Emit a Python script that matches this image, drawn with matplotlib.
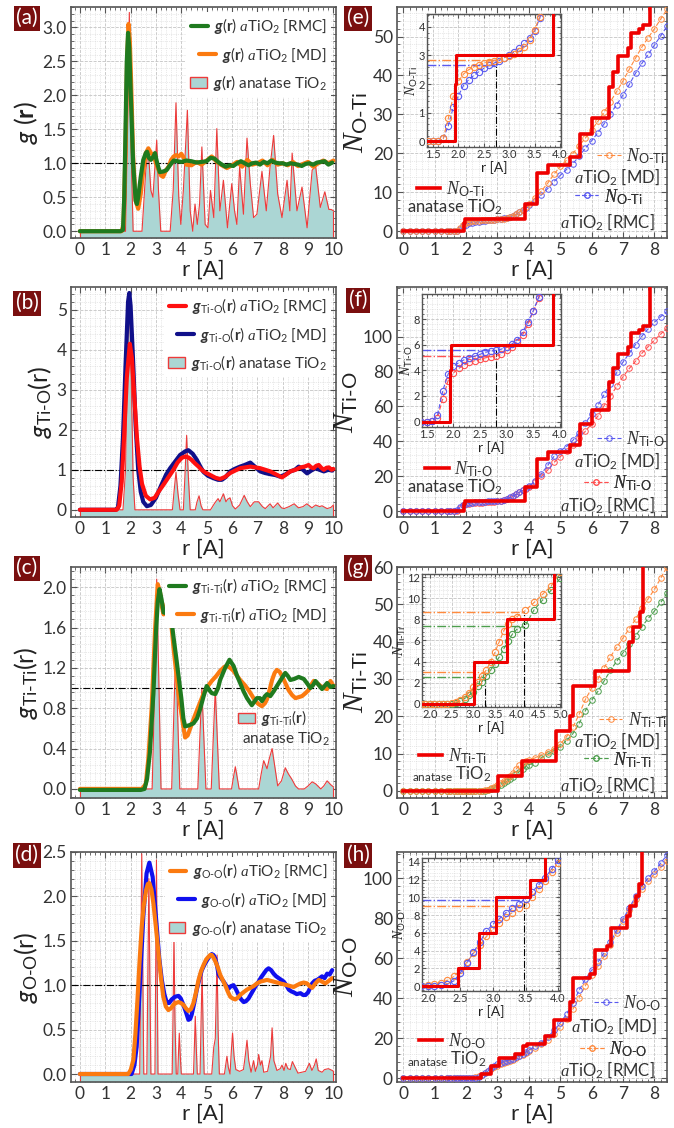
import numpy as np
import matplotlib
matplotlib.use("Agg")
import matplotlib.pyplot as plt
from matplotlib.ticker import MultipleLocator, FormatStrFormatter, FixedLocator
from matplotlib.patches import Patch

plt.rcParams['font.family'] = ['Lato', 'DejaVu Sans']
plt.rcParams['mathtext.fontset'] = 'custom'
plt.rcParams['mathtext.rm'] = 'Lato'
plt.rcParams['mathtext.it'] = 'Liberation Serif:italic'
plt.rcParams['mathtext.bf'] = 'Lato:bold'
plt.rcParams['mathtext.sf'] = 'Lato:italic'
plt.rcParams['mathtext.bfit'] = 'Lato:bold:italic'

# ---------------- g(r) data (r in A, g) ----------------
GA_ANATASE = [(0.0, 0), (1.80, 0), (1.88, 1.5), (1.95, 3.22), (2.02, 1.2), (2.10, 0), (2.45, 0),
              (2.60, 0.9), (2.70, 1.19), (2.80, 0.6), (2.88, 0.5), (2.95, 0.9), (3.03, 1.34), (3.10, 0.6),
              (3.19, 0), (3.56, 0), (3.68, 0.6), (3.79, 1.89), (3.90, 0.5), (3.98, 0.1), (4.08, 0.6),
              (4.24, 1.78), (4.35, 0.3), (4.45, 0), (4.54, 0.4), (4.63, 0.1), (4.72, 0.4), (4.81, 1.24),
              (4.94, 0.1), (5.05, 0.05), (5.15, 0.6), (5.28, 0.2), (5.40, 1.51), (5.52, 0.3), (5.66, 0.75),
              (5.82, 0.05), (5.99, 0.7), (6.10, 0.3), (6.19, 0.1), (6.30, 0.95), (6.45, 0.25), (6.59, 1.37),
              (6.72, 0.7), (6.85, 0.2), (6.98, 0.25), (7.18, 0.88), (7.35, 0.3), (7.50, 0.95), (7.64, 1.41),
              (7.80, 0.55), (7.97, 0.2), (8.17, 0.75), (8.28, 0.3), (8.37, 1.15), (8.56, 0.3), (8.76, 0.65),
              (8.96, 0.05), (9.16, 0.9), (9.30, 0.95), (9.48, 0.35), (9.66, 0.58), (9.82, 0.32),
              (9.91, 0.32), (10.0, 0.3)]
GA_MD = [(0.0, 0), (1.65, 0), (1.72, 0.1), (1.80, 1.2), (1.86, 2.5), (1.92, 3.05), (1.97, 2.8), (2.02, 2.2),
         (2.10, 1.1), (2.20, 0.45), (2.30, 0.33), (2.40, 0.55), (2.50, 0.9), (2.60, 1.15), (2.70, 1.22),
         (2.80, 1.15), (2.90, 1.12), (3.00, 1.0), (3.10, 0.9), (3.20, 0.82), (3.28, 0.8), (3.40, 0.9),
         (3.50, 0.95), (3.60, 1.05), (3.70, 1.1), (3.80, 1.12), (3.90, 1.1), (4.00, 1.14), (4.10, 1.08),
         (4.20, 0.98), (4.40, 0.97), (4.60, 1.02), (4.80, 0.98), (5.00, 1.04), (5.20, 1.1), (5.40, 1.02),
         (5.60, 0.97), (5.80, 0.93), (6.00, 0.97), (6.20, 1.02), (6.40, 0.95), (6.60, 1.05), (6.80, 0.98),
         (7.00, 1.0), (7.20, 1.04), (7.40, 0.97), (7.60, 1.05), (7.80, 0.98), (8.00, 1.0), (8.20, 0.97),
         (8.40, 1.02), (8.60, 0.96), (8.80, 0.99), (9.00, 1.02), (9.20, 0.95), (9.40, 1.0), (9.60, 1.04),
         (9.80, 1.0), (10.0, 1.04)]
GA_RMC = [(0.0, 0), (1.60, 0), (1.70, 0.02), (1.75, 0.5), (1.80, 1.5), (1.85, 2.5), (1.90, 2.92), (1.95, 2.7),
          (2.00, 2.1), (2.10, 1.0), (2.20, 0.45), (2.25, 0.4), (2.30, 0.5), (2.40, 0.8), (2.50, 1.05),
          (2.60, 1.15), (2.65, 1.17), (2.72, 1.08), (2.80, 1.05), (2.90, 1.1), (2.96, 1.15), (3.05, 1.0),
          (3.15, 0.87), (3.30, 0.88), (3.42, 0.9), (3.55, 0.97), (3.70, 1.04), (3.85, 1.03), (4.00, 1.02),
          (4.20, 1.04), (4.40, 1.03), (4.60, 1.01), (4.80, 1.02), (5.00, 1.03), (5.15, 1.08), (5.30, 1.07),
          (5.45, 1.02), (5.60, 0.98), (5.75, 0.95), (5.90, 0.97), (6.05, 0.96), (6.20, 1.0), (6.35, 1.03),
          (6.50, 1.0), (6.65, 0.97), (6.80, 1.0), (6.95, 1.01), (7.10, 0.98), (7.25, 1.02), (7.40, 1.0),
          (7.55, 1.04), (7.70, 1.01), (7.85, 1.0), (8.00, 1.0), (8.15, 0.98), (8.30, 1.0), (8.45, 0.99),
          (8.60, 0.98), (8.75, 0.96), (8.90, 0.99), (9.05, 1.0), (9.20, 0.98), (9.35, 1.01), (9.50, 1.02),
          (9.65, 1.03), (9.80, 0.98), (9.95, 1.01)]

GB_ANATASE = [(0.0, 0), (1.70, 0), (1.80, 1.0), (1.88, 4.0), (1.95, 5.45), (2.02, 3.5), (2.10, 0.8), (2.17, 0),
              (3.65, 0), (3.72, 0.5), (3.79, 0.94), (3.87, 0.4), (3.95, 0), (4.08, 0), (4.14, 0.8), (4.21, 1.86),
              (4.28, 0.8), (4.35, 0), (4.55, 0), (4.62, 0.2), (4.70, 0.35), (4.78, 0.1), (4.85, 0), (5.15, 0),
              (5.33, 0.18), (5.45, 0.28), (5.52, 0.2), (5.66, 0.4), (5.76, 0.2), (5.82, 0.26), (5.92, 0.3),
              (6.02, 0.1), (6.13, 0.02), (6.30, 0.12), (6.48, 0.36), (6.60, 0.2), (6.72, 0.08), (6.88, 0.2),
              (7.05, 0.2), (7.20, 0.08), (7.31, 0.03), (7.50, 0.15), (7.62, 0.05), (7.80, 0.17), (7.95, 0.05),
              (8.05, 0.03), (8.25, 0.08), (8.45, 0.15), (8.62, 0.05), (8.80, 0.08), (8.95, 0.15), (9.15, 0.05),
              (9.30, 0.12), (9.45, 0.08), (9.55, 0.1), (9.75, 0.03), (9.90, 0.06), (10.0, 0.12)]
GB_MD = [(0.0, 0), (1.40, 0), (1.50, 0.05), (1.60, 0.6), (1.70, 1.8), (1.80, 3.6), (1.90, 5.2), (1.95, 5.42),
         (2.00, 5.1), (2.10, 3.7), (2.20, 2.1), (2.30, 1.0), (2.40, 0.45), (2.50, 0.2), (2.64, 0.09),
         (2.80, 0.12), (3.00, 0.3), (3.20, 0.6), (3.40, 0.88), (3.56, 1.04), (3.75, 1.2), (3.95, 1.37),
         (4.15, 1.46), (4.28, 1.49), (4.45, 1.4), (4.61, 1.25), (4.75, 1.08), (4.87, 0.95), (5.05, 0.85),
         (5.27, 0.79), (5.45, 0.75), (5.60, 0.75), (5.75, 0.82), (5.93, 0.96), (6.10, 1.02), (6.32, 1.08),
         (6.50, 1.12), (6.72, 1.18), (6.90, 1.08), (7.11, 0.96), (7.30, 0.92), (7.51, 0.89), (7.70, 0.87),
         (7.90, 0.83), (8.10, 0.88), (8.30, 0.96), (8.48, 1.0), (8.63, 1.08), (8.80, 1.0), (8.96, 0.91),
         (9.12, 0.98), (9.29, 1.04), (9.45, 1.0), (9.62, 0.96), (9.80, 1.0), (9.95, 0.98)]
GB_RMC = [(0.0, 0), (1.45, 0), (1.55, 0.1), (1.65, 0.7), (1.75, 1.9), (1.85, 3.3), (1.97, 4.15), (2.05, 3.8),
          (2.15, 2.8), (2.25, 1.8), (2.35, 1.1), (2.45, 0.65), (2.60, 0.35), (2.77, 0.26), (2.95, 0.3),
          (3.10, 0.45), (3.30, 0.63), (3.50, 0.82), (3.69, 1.0), (3.85, 1.18), (4.02, 1.3), (4.15, 1.33),
          (4.28, 1.31), (4.40, 1.25), (4.54, 1.16), (4.68, 1.08), (4.80, 1.0), (4.95, 0.93), (5.14, 0.87),
          (5.35, 0.8), (5.53, 0.77), (5.72, 0.82), (5.93, 0.92), (6.12, 0.98), (6.32, 1.04), (6.52, 1.06),
          (6.72, 1.08), (6.92, 1.06), (7.11, 1.04), (7.31, 1.0), (7.51, 0.96), (7.75, 0.88), (7.97, 0.81),
          (8.13, 0.88), (8.30, 0.96), (8.50, 1.0), (8.70, 1.06), (8.86, 1.08), (9.02, 1.12), (9.12, 1.06),
          (9.22, 1.04), (9.32, 1.1), (9.42, 1.12), (9.52, 1.05), (9.62, 1.0), (9.72, 1.05), (9.82, 1.06),
          (9.92, 1.0), (10.0, 1.02)]

GC_ANATASE = [(0.0, 0), (2.85, 0), (2.95, 1.0), (3.03, 2.08), (3.12, 1.0), (3.20, 0), (3.62, 0), (3.70, 0.7),
              (3.78, 1.38), (3.86, 0.7), (3.94, 0), (4.65, 0), (4.73, 0.5), (4.81, 1.0), (4.89, 0.5), (4.97, 0),
              (5.18, 0), (5.26, 0.5), (5.34, 0.99), (5.42, 0.5), (5.50, 0), (5.98, 0), (6.06, 0.12), (6.13, 0.22),
              (6.20, 0.12), (6.28, 0), (7.05, 0), (7.15, 0.15), (7.25, 0.28), (7.38, 0.2), (7.47, 0.3),
              (7.58, 0.4), (7.70, 0.2), (7.80, 0.03), (7.95, 0.08), (8.10, 0.21), (8.22, 0.15), (8.35, 0.1),
              (8.50, 0.03), (8.62, 0.0), (8.85, 0.0), (9.00, 0.03), (9.16, 0.07), (9.30, 0.05), (9.50, 0.0),
              (9.62, 0.03), (9.75, 0.08), (9.90, 0.04), (10.0, 0.02)]
GC_MD = [(0.0, 0.0), (2.45, 0.0), (2.60, 0.05), (2.70, 0.3), (2.83, 0.8), (2.97, 1.6), (3.07, 2.03), (3.16, 1.95),
         (3.24, 1.8), (3.30, 1.73), (3.38, 1.8), (3.44, 1.85), (3.53, 1.81), (3.60, 1.65), (3.69, 1.41),
         (3.80, 1.15), (3.89, 0.95), (4.00, 0.75), (4.08, 0.62), (4.15, 0.51), (4.25, 0.53), (4.35, 0.6),
         (4.48, 0.69), (4.65, 0.8), (4.87, 0.94), (5.05, 1.02), (5.20, 1.07), (5.38, 1.12), (5.53, 1.17),
         (5.70, 1.21), (5.80, 1.22), (5.93, 1.2), (6.06, 1.17), (6.20, 1.12), (6.32, 1.08), (6.50, 1.03),
         (6.65, 0.98), (6.80, 0.92), (6.92, 0.87), (7.05, 0.84), (7.18, 0.82), (7.30, 0.85), (7.38, 0.89),
         (7.48, 0.98), (7.58, 1.08), (7.68, 1.15), (7.77, 1.18), (7.88, 1.16), (7.97, 1.12), (8.10, 1.05),
         (8.23, 0.98), (8.37, 0.93), (8.50, 0.9), (8.63, 0.91), (8.76, 0.92), (8.90, 0.95), (9.02, 0.98),
         (9.12, 1.03), (9.22, 1.07), (9.35, 1.05), (9.49, 1.02), (9.62, 1.0), (9.75, 0.99), (9.88, 1.07),
         (10.0, 1.02)]
GC_RMC = [(0.0, -0.01), (2.40, -0.01), (2.55, 0.0), (2.65, 0.1), (2.76, 0.36), (2.90, 0.95), (3.00, 1.55),
          (3.07, 1.85), (3.14, 1.98), (3.22, 1.88), (3.30, 1.75), (3.42, 1.74), (3.53, 1.78), (3.60, 1.7),
          (3.69, 1.51), (3.80, 1.3), (3.89, 1.12), (4.00, 0.9), (4.08, 0.7), (4.15, 0.62), (4.30, 0.63),
          (4.48, 0.65), (4.62, 0.7), (4.74, 0.79), (4.88, 0.92), (5.00, 1.02), (5.10, 0.98), (5.20, 0.95),
          (5.34, 0.94), (5.45, 1.0), (5.53, 1.08), (5.73, 1.2), (5.90, 1.28), (6.06, 1.22), (6.20, 1.12),
          (6.32, 1.05), (6.45, 0.97), (6.59, 0.9), (6.78, 0.83), (6.98, 0.9), (7.10, 0.9), (7.18, 0.87),
          (7.30, 0.92), (7.38, 0.94), (7.51, 0.92), (7.65, 0.97), (7.77, 1.02), (7.97, 1.1), (8.10, 1.15),
          (8.20, 1.12), (8.30, 1.08), (8.45, 1.09), (8.63, 1.11), (8.83, 1.09), (8.95, 1.05), (9.09, 1.0),
          (9.20, 1.03), (9.29, 1.07), (9.42, 1.03), (9.55, 0.99), (9.65, 1.02), (9.75, 1.05), (9.88, 1.01),
          (10.0, 1.02)]

GD_ANATASE = [(0.0, 0), (2.36, 0), (2.40, 1.2), (2.44, 2.48), (2.48, 1.2), (2.52, 0), (2.64, 0), (2.68, 1.1),
              (2.72, 2.2), (2.76, 1.1), (2.80, 0), (2.96, 0), (2.99, 1.2), (3.02, 2.41), (3.05, 1.2), (3.08, 0),
              (3.64, 0), (3.68, 0.8), (3.71, 1.57), (3.75, 0.6), (3.80, 0), (3.86, 0), (3.89, 0.25), (3.92, 0.46),
              (3.96, 0.2), (4.00, 0), (4.48, 0), (4.52, 0.35), (4.55, 0.65), (4.59, 0.3), (4.63, 0), (4.74, 0),
              (4.78, 0.6), (4.82, 1.15), (4.86, 0.5), (4.90, 0), (5.20, 0), (5.28, 0.3), (5.34, 0.4), (5.38, 0.9),
              (5.41, 1.34), (5.45, 0.5), (5.50, 0), (5.70, 0), (5.76, 0.12), (5.80, 0.2), (5.85, 0.08),
              (5.92, 0), (5.97, 0.25), (6.02, 0.46), (6.08, 0.2), (6.15, 0.05), (6.30, 0.03), (6.45, 0.05),
              (6.52, 0.2), (6.59, 0.38), (6.66, 0.15), (6.75, 0.02), (6.85, 0.15), (6.92, 0.03), (7.00, 0.1),
              (7.05, 0.22), (7.12, 0.1), (7.18, 0.15), (7.25, 0.02), (7.40, 0.03), (7.52, 0.2), (7.58, 0.52),
              (7.65, 0.15), (7.77, 0.04), (7.90, 0.06), (7.97, 0.1), (8.05, 0.04), (8.12, 0.12), (8.20, 0.06),
              (8.30, 0.05), (8.38, 0.14), (8.48, 0.08), (8.60, 0.01), (8.90, 0.03), (9.05, 0.12), (9.15, 0.04),
              (9.25, 0.1), (9.32, 0.17), (9.40, 0.04), (9.55, 0.02), (9.65, 0.05), (9.80, 0.06), (9.95, 0.04),
              (10.0, 0.03)]
GD_MD = [(0.0, 0.0), (2.04, 0.0), (2.15, 0.1), (2.24, 0.31), (2.37, 1.02), (2.50, 1.77), (2.63, 2.26),
         (2.74, 2.38), (2.87, 2.22), (3.03, 1.66), (3.13, 1.3), (3.23, 1.06), (3.33, 0.9), (3.43, 0.8),
         (3.52, 0.8), (3.62, 0.84), (3.75, 0.87), (3.89, 0.88), (3.98, 0.85), (4.08, 0.78), (4.18, 0.7),
         (4.28, 0.61), (4.35, 0.62), (4.41, 0.67), (4.51, 0.8), (4.61, 0.95), (4.71, 1.07), (4.81, 1.17),
         (4.91, 1.23), (5.01, 1.28), (5.10, 1.32), (5.20, 1.35), (5.27, 1.34), (5.34, 1.3), (5.41, 1.22),
         (5.47, 1.12), (5.57, 1.08), (5.67, 1.04), (5.76, 1.0), (5.86, 0.96), (5.96, 0.99), (6.06, 1.0),
         (6.16, 0.95), (6.26, 0.89), (6.36, 0.84), (6.46, 0.81), (6.55, 0.82), (6.65, 0.85), (6.75, 0.9),
         (6.85, 0.95), (6.95, 1.0), (7.05, 1.04), (7.15, 1.09), (7.25, 1.13), (7.35, 1.17), (7.44, 1.19),
         (7.54, 1.17), (7.64, 1.13), (7.74, 1.1), (7.84, 1.08), (7.94, 1.06), (8.04, 1.04), (8.14, 1.0),
         (8.24, 0.95), (8.34, 0.93), (8.43, 0.92), (8.55, 0.9), (8.70, 0.91), (8.80, 0.89), (8.90, 0.89),
         (9.00, 0.92), (9.08, 0.97), (9.16, 1.02), (9.26, 1.05), (9.36, 1.06), (9.46, 1.08), (9.55, 1.1),
         (9.65, 1.08), (9.75, 1.13), (9.85, 1.12), (9.95, 1.17)]
GD_RMC = [(0.0, 0.0), (1.91, 0.0), (2.01, 0.05), (2.11, 0.16), (2.19, 0.45), (2.27, 0.83), (2.35, 1.25),
          (2.44, 1.66), (2.52, 1.9), (2.61, 2.07), (2.68, 2.14), (2.74, 2.15), (2.82, 2.08), (2.90, 1.92),
          (3.00, 1.65), (3.10, 1.36), (3.20, 1.08), (3.29, 0.87), (3.39, 0.76), (3.49, 0.72), (3.59, 0.74),
          (3.69, 0.78), (3.79, 0.8), (3.89, 0.81), (3.98, 0.8), (4.08, 0.78), (4.18, 0.74), (4.28, 0.71),
          (4.38, 0.73), (4.48, 0.8), (4.58, 0.92), (4.68, 1.06), (4.78, 1.16), (4.88, 1.23), (4.98, 1.29),
          (5.07, 1.32), (5.14, 1.34), (5.20, 1.34), (5.27, 1.31), (5.34, 1.27), (5.44, 1.2), (5.53, 1.12),
          (5.63, 1.06), (5.73, 1.0), (5.83, 0.93), (5.93, 0.87), (6.03, 0.85), (6.13, 0.84), (6.23, 0.86),
          (6.32, 0.89), (6.45, 0.92), (6.59, 0.95), (6.72, 0.97), (6.85, 0.99), (6.98, 1.02), (7.11, 1.04),
          (7.25, 1.05), (7.38, 1.06), (7.51, 1.05), (7.64, 1.04), (7.77, 1.03), (7.90, 1.02), (8.04, 1.01),
          (8.17, 1.0), (8.30, 0.99), (8.43, 0.98), (8.56, 1.0), (8.70, 1.02), (8.83, 1.03), (8.96, 1.02),
          (9.06, 0.99), (9.16, 0.97), (9.29, 1.02), (9.42, 1.06), (9.55, 1.04), (9.68, 1.02), (9.82, 1.05),
          (9.95, 1.08)]

# ---------------- running coordination numbers N(r) ----------------
R_CUM = [0.0, 0.2, 0.4, 0.6, 0.8, 1.0, 1.2, 1.4,
         1.5, 1.6, 1.7, 1.8, 1.9, 2.0, 2.1, 2.2, 2.3, 2.4, 2.5, 2.6, 2.7,
         2.8, 2.9, 3.0, 3.1, 3.2, 3.3, 3.4, 3.5, 3.6, 3.7, 3.8, 3.9, 4.0,
         4.2, 4.4, 4.6, 4.8, 5.0, 5.2, 5.4, 5.6, 5.8, 6.0, 6.2, 6.4, 6.6,
         6.8, 7.0, 7.2, 7.4, 7.6, 7.8, 8.0, 8.2, 8.4]

NOTI_MD = [0, 0, 0, 0, 0, 0, 0, 0,
           0, 0, 0.1, 0.8, 1.6, 2.1, 2.35, 2.5, 2.6, 2.68, 2.74, 2.78, 2.82,
           2.86, 2.92, 2.98, 3.05, 3.15, 3.3, 3.55, 3.9, 4.35, 4.9, 5.5, 6.2, 6.9,
           8.5, 10.3, 12.3, 14.6, 16.6, 18.2, 19.9, 21.9, 23.9, 26.0, 28.2, 30.6, 33.3,
           35.9, 38.6, 41.6, 44.5, 47.3, 49.7, 52.0, 54.5, 57.0]
NOTI_RMC = [0, 0, 0, 0, 0, 0, 0, 0,
            0, 0.02, 0.1, 0.55, 1.2, 1.6, 1.95, 2.15, 2.3, 2.43, 2.55, 2.65, 2.73,
            2.82, 2.92, 3.02, 3.12, 3.25, 3.42, 3.62, 3.85, 4.3, 4.8, 5.4, 6.0, 6.6,
            7.8, 9.3, 10.9, 12.7, 14.3, 15.8, 17.3, 19.2, 21.3, 23.2, 25.3, 27.6, 30.2,
            32.5, 35.0, 37.7, 40.6, 43.1, 45.4, 47.8, 50.2, 52.6]
NTIO_MD = [0, 0, 0, 0, 0, 0, 0, 0,
           0, 0.05, 0.5, 2.4, 3.7, 4.3, 4.6, 4.82, 4.98, 5.1, 5.25, 5.4, 5.5,
           5.56, 5.65, 5.85, 6.05, 6.35, 6.95, 7.8, 8.65, 9.7, 10.9, 12.0, 13.2, 14.3,
           17.2, 21.3, 26.2, 31.4, 34.6, 37.0, 40.5, 45.0, 50.5, 55.5, 60.6, 67.0, 73.0,
           79.5, 85.5, 90.5, 95.5, 100.3, 104.5, 108.3, 111.5, 114.5]
NTIO_RMC = [0, 0, 0, 0, 0, 0, 0, 0,
            0, 0.03, 0.3, 1.8, 3.2, 3.8, 4.15, 4.42, 4.62, 4.75, 4.87, 4.97, 5.05,
            5.15, 5.3, 5.55, 5.85, 6.2, 6.75, 7.6, 8.6, 9.6, 10.7, 11.8, 12.9, 14.0,
            16.8, 20.0, 23.5, 27.9, 31.2, 34.3, 37.8, 41.8, 45.8, 50.0, 54.5, 60.5, 66.0,
            71.5, 77.0, 81.8, 86.0, 90.5, 94.3, 98.0, 101.5, 105.0]
NTITI_MD = [0, 0, 0, 0, 0, 0, 0, 0,
            0, 0, 0, 0, 0, 0, 0, 0, 0, 0, 0.05, 0.15, 0.35,
            0.65, 1.05, 1.55, 2.1, 2.65, 3.2, 4.0, 4.9, 5.9, 6.9, 7.6, 8.0, 8.25,
            8.85, 9.6, 10.4, 11.2, 12.5, 14.5, 17.0, 20.5, 24.5, 27.5, 30.0, 33.0, 36.0,
            38.5, 41.0, 43.5, 46.0, 49.0, 51.5, 54.0, 57.0, 60.0]
NTITI_RMC = [0, 0, 0, 0, 0, 0, 0, 0,
             0, 0, 0, 0, 0, 0, 0, 0, 0, 0, 0.02, 0.1, 0.25,
             0.5, 0.8, 1.1, 1.65, 2.1, 2.65, 3.2, 3.8, 4.45, 5.2, 5.95, 6.6, 7.05,
             7.45, 8.9, 9.85, 10.8, 11.9, 13.5, 15.3, 18.0, 21.5, 24.3, 26.7, 29.5, 32.3,
             34.8, 37.0, 39.3, 41.5, 44.0, 46.2, 48.2, 50.5, 53.0]
NOO_MD = [0, 0, 0, 0, 0, 0, 0, 0,
          0, 0, 0, 0, 0, 0, 0.02, 0.08, 0.2, 0.6, 1.5, 2.6, 3.8,
          5.0, 6.2, 7.0, 7.6, 8.3, 8.8, 9.3, 9.85, 10.6, 11.4, 12.2, 13.2, 14.2,
          16.0, 17.8, 20.5, 24.0, 27.8, 32.0, 37.5, 44.0, 49.5, 54.0, 58.0, 62.8, 68.0,
          74.0, 79.5, 85.0, 90.8, 96.0, 100.0, 103.5, 107.5, 111.5]
NOO_RMC = [0, 0, 0, 0, 0, 0, 0, 0,
           0, 0, 0, 0.02, 0.05, 0.15, 0.25, 0.4, 0.65, 1.1, 1.8, 2.7, 3.7,
           4.6, 5.6, 6.4, 7.1, 7.8, 8.3, 8.8, 9.2, 10.1, 11.0, 11.9, 12.9, 13.9,
           15.4, 17.0, 19.2, 22.2, 25.5, 29.8, 34.5, 40.3, 46.3, 51.5, 56.0, 61.0, 66.5,
           72.8, 78.5, 84.0, 89.5, 94.5, 98.5, 102.0, 105.3, 108.3]

# anatase running coordination numbers (step positions, values)
ANA_OTI_R = [0.0, 1.93, 1.96, 3.87, 4.27, 4.62, 5.30, 5.62, 6.00, 6.55, 6.68, 6.83, 7.15, 7.26, 7.50, 7.65, 7.85, 8.6]
ANA_OTI_N = [0, 2, 3, 7, 15, 17, 19, 25, 29, 37, 41, 45, 47, 51, 52, 53, 60, 60]
ANA_TIO_R = [0.0, 1.93, 1.96, 3.87, 4.27, 4.62, 5.30, 5.62, 6.00, 6.55, 6.68, 6.83, 7.15, 7.26, 7.50, 7.65, 7.85, 8.6]
ANA_TIO_N = [0, 4, 6, 14, 30, 34, 38, 50, 58, 74, 82, 90, 94, 102, 104, 106, 130, 130]
ANA_TITI_R = [0.0, 3.02, 3.78, 4.85, 5.30, 5.42, 6.12, 7.20, 7.33, 7.53, 7.64, 8.6]
ANA_TITI_N = [0, 4, 8, 16, 20, 28, 32, 40, 44, 48, 64, 64]
ANA_OO_R = [0.0, 2.47, 2.79, 3.04, 3.57, 3.80, 3.93, 4.52, 4.80, 5.32, 5.42, 5.95, 6.10, 6.48, 6.62, 7.12,
            7.22, 7.40, 7.50, 7.60, 8.6]
ANA_OO_N = [0, 2, 6, 10, 12, 16, 17, 21, 29, 38, 50, 52, 64, 66, 75, 81, 86, 91, 97, 120, 120]

# first-shell cut-off radii and coordination numbers
CUT_E, CN_E_MD, CN_E_RMC = [2.73], [2.83], [2.68]
CUT_F, CN_F_MD, CN_F_RMC = [2.80], [5.57], [5.12]
CUT_G, CN_G_MD, CN_G_RMC = [3.28, 4.16], [3.03, 8.70], [2.56, 7.33]
CUT_H, CN_H_MD, CN_H_RMC = [3.48], [9.73], [9.08]

# ---------------- style ----------------
TEAL = '#abd6d4'
ANA_RED = '#ee3a3a'
STEP_RED = '#ee0000'
GREEN = '#1f7a1f'
ORANGE = '#fb7a10'
RED = '#ff1010'
NAVY = '#10108a'
BLUE = '#1010ee'
C_OR = '#ff8a3d'
C_BL = '#5a5af0'
C_RD = '#ff5050'
C_GR = '#4d9e4d'
TXT = '#333333'

fig = plt.figure(figsize=(6.74, 11.28), dpi=100)
W, H = 674.0, 1128.0


def px_rect(x0, y0, x1, y1):
    return [x0 / W, 1 - y1 / H, (x1 - x0) / W, (y1 - y0) / H]


def style(ax, xmaj, xmin, ymaj, ymin, size=12.5, yticks=None):
    ax.xaxis.set_major_locator(MultipleLocator(xmaj))
    ax.xaxis.set_minor_locator(MultipleLocator(xmin))
    if yticks is None:
        ax.yaxis.set_major_locator(MultipleLocator(ymaj))
    else:
        ax.yaxis.set_major_locator(FixedLocator(yticks))
    ax.yaxis.set_minor_locator(MultipleLocator(ymin))
    ax.tick_params(which='both', direction='in', top=True, right=True, color='#555555',
                   labelcolor=TXT, labelsize=size, pad=3)
    ax.tick_params(which='major', length=4, width=0.8)
    ax.tick_params(which='minor', length=2, width=0.6)
    ax.grid(which='major', ls='--', lw=0.6, color='#c4c4c4')
    ax.grid(which='minor', ls=':', lw=0.5, color='#d4d4d4')
    ax.set_axisbelow(True)
    for s in ax.spines.values():
        s.set_color('#555555')
        s.set_linewidth(1.2)


def right_legend(ax, handles, labels):
    leg = ax.legend(handles, labels, loc='upper right', fontsize=11, frameon=True, framealpha=1,
                    edgecolor='none', facecolor='white', fancybox=False, handlelength=1.1,
                    handleheight=0.7, handletextpad=0.4, labelspacing=0.55, borderpad=0.25,
                    borderaxespad=0.35)
    for col in leg._legend_handle_box.get_children():
        col.align = 'right'
    for t in leg.get_texts():
        t.set_color(TXT)
    return leg


def gr_panel(rect, ana, md, rmc, md_col, rmc_col, ylim, ymaj, ymin, yfmt, sub, ylabel, legend_ana=True):
    ax = fig.add_axes(rect)
    r, g = np.array(ana).T
    ax.fill_between(r, g, ylim[0], color=TEAL, lw=0, zorder=1)
    ax.plot(r, g, color=ANA_RED, lw=0.8, zorder=2)
    ax.vlines([r[0], r[-1]], ylim[0], [g[0], g[-1]], color=ANA_RED, lw=0.8, zorder=2)
    ax.axhline(1.0, color='k', lw=0.8, ls='-.', zorder=2.5)
    x, y = np.array(md).T
    l_md, = ax.plot(x, y, color=md_col, lw=3, zorder=3, solid_capstyle='round', solid_joinstyle='round')
    x, y = np.array(rmc).T
    l_rmc, = ax.plot(x, y, color=rmc_col, lw=3, zorder=4, solid_capstyle='round', solid_joinstyle='round')
    ax.set_xlim(-0.35, 10.1)
    ax.set_ylim(*ylim)
    style(ax, 1, 0.2, ymaj, ymin)
    ax.xaxis.set_major_formatter(FormatStrFormatter('%d'))
    ax.yaxis.set_major_formatter(FormatStrFormatter(yfmt))
    ax.set_xlabel('r [A]', fontsize=16, color='#222222', labelpad=1)
    ax.set_ylabel(ylabel, fontsize=18, color='#222222', labelpad=2)
    gsym = r'$\mathbfit{g}%s$($\mathbf{r}$)' % sub
    proxy = Patch(facecolor=TEAL, edgecolor=ANA_RED, lw=1)
    handles = [l_rmc, l_md]
    labels = [gsym + r' $a$TiO$_2$ [RMC]', gsym + r' $a$TiO$_2$ [MD]']
    if legend_ana:
        handles.append(proxy)
        labels.append(gsym + r' anatase TiO$_2$')
    right_legend(ax, handles, labels)
    return ax, proxy, gsym


def cum_panel(rect, md, rmc, md_col, rmc_col, ana_r, ana_n, ylim, ymaj, ymin, yticks, name, keys):
    ax = fig.add_axes(rect)
    kw = dict(ls=(0, (4, 2)), lw=0.8, marker='o', ms=4, mfc='none', mew=0.7, zorder=3)
    l_rmc, = ax.plot(R_CUM, rmc, color=rmc_col, **kw)
    l_md, = ax.plot(R_CUM, md, color=md_col, **kw)
    l_ana, = ax.plot(ana_r, ana_n, color=STEP_RED, lw=2.6, drawstyle='steps-post', zorder=4)
    ax.set_xlim(-0.2, 8.4)
    ax.set_ylim(*ylim)
    style(ax, 1, 0.2, ymaj, ymin, yticks=yticks)
    ax.set_xlabel('r [A]', fontsize=16, color='#222222', labelpad=1)
    ax.set_ylabel(r'$N_{\mathrm{%s}}$' % name, fontsize=21, color='#222222', labelpad=2)
    top = r'$N_{\mathrm{%s}}$' % name
    shifts = [(0.018, -0.012), (0.03, 0.005), (0.014, -0.027)]
    for handle, bottom, (hx, hy), (tx, ty), ha, (dh, dt) in zip(
            [l_ana, l_md, l_rmc], [keys[0], r'$a$TiO$_2$ [MD]', r'$a$TiO$_2$ [RMC]'],
            keys[1], keys[2], ['left', 'right', 'right'], shifts):
        leg = ax.legend([handle], [top], loc='center left', bbox_to_anchor=(hx, hy + dh), frameon=False,
                        fontsize=13, handlelength=1.3, handletextpad=0.3, borderpad=0, borderaxespad=0)
        leg.get_texts()[0].set_color(TXT)
        ax.add_artist(leg)
        ax.text(tx, ty + dt, bottom, transform=ax.transAxes, ha=ha, va='center', fontsize=12, color=TXT)
    return ax


def inset(rect, md, rmc, md_col, rmc_col, ana_r, ana_n, xlim, ylim, xmaj, ymaj, ymin, name, cuts, lv_md, lv_rmc):
    ax = fig.add_axes(rect, facecolor='white', zorder=5)
    kw = dict(ls=(0, (4, 2)), lw=0.8, marker='o', ms=4.5, mfc='none', mew=0.8, zorder=3)
    ax.plot(R_CUM, rmc, color=rmc_col, **kw)
    ax.plot(R_CUM, md, color=md_col, **kw)
    ax.plot(ana_r, ana_n, color=STEP_RED, lw=2.2, drawstyle='steps-post', zorder=4)
    for rc, a, b in zip(cuts, lv_md, lv_rmc):
        ax.vlines(rc, ylim[0], max(a, b), colors='k', lw=0.8, linestyles='-.', zorder=2.5)
        ax.hlines(a, xlim[0], rc, colors=md_col, lw=1.0, linestyles='-.', zorder=2.5)
        ax.hlines(b, xlim[0], rc, colors=rmc_col, lw=1.0, linestyles='-.', zorder=2.5)
    ax.set_xlim(*xlim)
    ax.set_ylim(*ylim)
    style(ax, xmaj, 0.1, ymaj, ymin, size=8)
    ax.tick_params(which='major', length=3, pad=1.5)
    ax.tick_params(which='minor', length=1.5)
    ax.xaxis.set_major_formatter(FormatStrFormatter('%.1f'))
    ax.yaxis.set_major_formatter(FormatStrFormatter('%d'))
    ax.set_xlabel('r [A]', fontsize=10, color='#222222', labelpad=1)
    ax.set_ylabel(r'$N_{\mathrm{%s}}$' % name, fontsize=10, color='#222222', labelpad=-1)
    for s in ax.spines.values():
        s.set_linewidth(1.0)
    return ax


# ---------------- left column: pair distribution functions ----------------
gr_panel(px_rect(71, 7, 336, 238), GA_ANATASE, GA_MD, GA_RMC, ORANGE, GREEN, (-0.1, 3.3), 0.5, 0.1, '%.1f',
         '', r'$\mathsf{g}$ ($\mathbf{r}$)')
gr_panel(px_rect(71, 287, 336, 517), GB_ANATASE, GB_MD, GB_RMC, NAVY, RED, (-0.18, 5.57), 1, 0.2, '%d',
         r'_{\mathrm{Ti‐O}}', r'$\mathsf{g}_{\mathrm{Ti‐O}}$(r)')
ax_c, proxy_c, gsym_c = gr_panel(px_rect(71, 567, 336, 798), GC_ANATASE, GC_MD, GC_RMC, ORANGE, GREEN,
                                 (-0.09, 2.2), 0.4, 0.08, '%.1f', r'_{\mathrm{Ti‐Ti}}',
                                 r'$\mathsf{g}_{\mathrm{Ti‐Ti}}$(r)', legend_ana=False)
leg_c = ax_c.legend([proxy_c], [gsym_c], loc='center left', bbox_to_anchor=(0.63, 0.345), frameon=False,
                    fontsize=11, handlelength=1.1, handleheight=0.7, handletextpad=0.4, borderpad=0,
                    borderaxespad=0)
leg_c.get_texts()[0].set_color(TXT)
ax_c.add_artist(leg_c)
ax_c.text(0.645, 0.255, 'anatase TiO$_2$', transform=ax_c.transAxes, ha='left', va='center',
          fontsize=11, color=TXT)
l_c = ax_c.get_lines()
right_legend(ax_c, [l_c[-1], l_c[-2]], [gsym_c + r' $a$TiO$_2$ [RMC]', gsym_c + r' $a$TiO$_2$ [MD]'])
gr_panel(px_rect(71, 852, 336, 1082), GD_ANATASE, GD_MD, GD_RMC, BLUE, ORANGE, (-0.09, 2.5), 0.5, 0.1, '%.1f',
         r'_{\mathrm{O‐O}}', r'$\mathsf{g}_{\mathrm{O‐O}}$(r)')

# ---------------- right column: running coordination numbers ----------------
cum_panel(px_rect(397, 7, 667, 238), NOTI_MD, NOTI_RMC, C_OR, C_BL, ANA_OTI_R, ANA_OTI_N, (-1.8, 57.6), 10, 2,
          [0, 10, 20, 30, 40, 50], 'O‐Ti',
          ['anatase TiO$_2$', [(0.074, 0.195), (0.741, 0.325), (0.659, 0.165)],
           [(0.037, 0.143), (0.974, 0.26), (0.956, 0.10)]])
inset(px_rect(427, 14, 561, 147), NOTI_MD, NOTI_RMC, C_OR, C_BL, ANA_OTI_R, ANA_OTI_N, (1.38, 4.02),
      (-0.2, 4.45), 0.5, 1, 0.2, 'O‐Ti', CUT_E, CN_E_MD, CN_E_RMC)

cum_panel(px_rect(397, 287, 667, 517), NTIO_MD, NTIO_RMC, C_BL, C_RD, ANA_TIO_R, ANA_TIO_N, (-3.4, 128.5), 20, 4,
          [0, 20, 40, 60, 80, 100], 'Ti‐O',
          ['anatase TiO$_2$', [(0.104, 0.191), (0.741, 0.309), (0.693, 0.135)],
           [(0.037, 0.139), (0.974, 0.239), (0.956, 0.083)]])
inset(px_rect(422, 294, 561, 427), NTIO_MD, NTIO_RMC, C_BL, C_RD, ANA_TIO_R, ANA_TIO_N, (1.41, 4.02),
      (-0.42, 9.95), 0.5, 2, 0.4, 'Ti‐O', CUT_F, CN_F_MD, CN_F_RMC)

cum_panel(px_rect(397, 567, 667, 798), NTITI_MD, NTITI_RMC, C_OR, C_GR, ANA_TITI_R, ANA_TITI_N, (-1.9, 60),
          10, 2, [0, 10, 20, 30, 40, 50, 60], 'Ti‐Ti',
          [r'$_{\mathrm{anatase}}$ TiO$_2$', [(0.081, 0.165), (0.748, 0.307), (0.693, 0.152)],
           [(0.056, 0.113), (0.974, 0.242), (0.956, 0.087)]])
inset(px_rect(422, 574, 561, 707), NTITI_MD, NTITI_RMC, C_OR, C_GR, ANA_TITI_R, ANA_TITI_N, (1.82, 5.02),
      (-0.3, 12.3), 0.5, 2, 0.4, 'Ti‐Ti', CUT_G, CN_G_MD, CN_G_RMC)

cum_panel(px_rect(397, 852, 667, 1082), NOO_MD, NOO_RMC, C_BL, C_OR, ANA_OO_R, ANA_OO_N, (-1.8, 113), 20, 4,
          [0, 20, 40, 60, 80, 100], 'O‐O',
          [r'$_{\mathrm{anatase}}$ TiO$_2$', [(0.081, 0.161), (0.73, 0.313), (0.678, 0.13)],
           [(0.037, 0.109), (0.963, 0.239), (0.956, 0.083)]])
inset(px_rect(422, 858, 560, 991), NOO_MD, NOO_RMC, C_BL, C_OR, ANA_OO_R, ANA_OO_N, (1.91, 4.03),
      (-0.55, 14.45), 0.5, 2, 0.4, 'O‐O', CUT_H, CN_H_MD, CN_H_RMC)

# ---------------- panel tags ----------------
for tag, (cx, cy) in zip(['(a)', '(b)', '(c)', '(d)', '(e)', '(f)', '(g)', '(h)'],
                         [(27, 18), (27, 303), (27, 568), (27, 855), (358, 18), (358, 300), (358, 568), (358, 855)]):
    fig.text(cx / W, 1 - cy / H, tag, color='white', fontsize=15, ha='center', va='center', zorder=10,
             bbox=dict(boxstyle='square,pad=0.12', fc='#7a0f0f', ec='none'))

fig.savefig('out.png', dpi=100)
